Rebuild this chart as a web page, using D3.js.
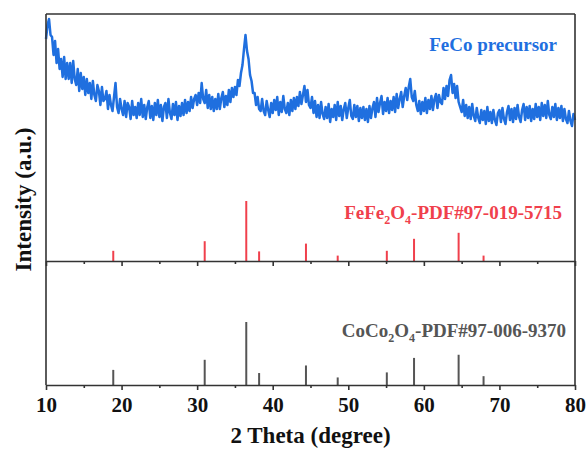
<!DOCTYPE html>
<html>
<head>
<meta charset="utf-8">
<script src="https://cdn.jsdelivr.net/npm/d3@7"></script>
<style>
  html, body { margin: 0; padding: 0; background: #fff; }
  svg { display: block; }
  text { font-family: "Liberation Serif", "Times New Roman", serif; font-weight: bold; }
</style>
</head>
<body>
<svg id="chart" width="587" height="454"></svg>
<script>
// ---- Data ----
const thetaStart = 10, thetaStep = 0.2;
// FeCo precursor measured pattern (a.u.), one value every 0.2 deg from 10 to 80
const precursorIntensity = [
  96,110,116,100,98, 80,94,72,86,66, 76,58,78,56,72, 56,72,52,74,56,
  50,66,44,62,46, 58,40,56,42,52, 36,54,40,34,50, 44,30,48,34,36,
  44,26,40,30,24, 38,52,28,22,36, 26,20,34,18,32, 28,16,34,20,28,
  17,32,20,36,18, 30,16,28,34,17, 29,15,32,20,35, 18,30,14,28,32,
  17,36,22,16,31, 20,33,15,29,19, 32,20,35,22,33, 24,38,27,36,40,
  30,42,32,52,36, 32,45,27,40,26, 38,24,36,26,41, 26,37,43,28,39,
  30,45,33,47,38, 48,40,55,49,62, 70,86,100,84,76, 60,54,42,42,30,
  38,26,24,36,24, 20,34,25,18,32, 22,35,25,38,20, 33,23,39,26,22,
  32,20,35,24,37, 26,38,29,43,31, 40,49,33,45,30, 27,38,22,34,18,
  30,17,33,21,16, 28,17,31,13,26, 18,30,15,33,19, 29,15,26,32,17,
  27,35,19,16,30, 18,29,14,27,17, 28,15,26,13,29, 17,27,33,18,37,
  23,32,39,21,33, 24,37,22,34,25, 38,23,41,27,36, 43,28,39,47,35,
  48,56,38,34,44, 30,24,34,21,33, 24,37,22,35,26, 39,25,36,41,27,
  40,33,31,47,36, 49,39,55,60,42, 51,37,49,33,28, 23,35,19,30,17,
  28,16,31,19,14, 27,17,12,25,15, 24,11,28,14,23, 12,25,15,10,22,
  25,13,27,16,11, 23,29,15,26,13, 27,16,30,18,13, 25,31,15,28,17,
  29,14,26,16,31, 18,28,15,32,19, 30,17,34,20,16, 28,18,31,15,27,
  17,29,14,26,16, 12,24,14,9,21, 15
];
// Reference stick patterns
const refTheta = [18.9, 31.0, 36.5, 38.2, 44.4, 48.6, 55.1, 58.7, 64.6, 67.9];
const fe3o4Intensity = [17, 33, 100, 16, 29, 9, 17, 37, 47, 9];
const co3o4Intensity = [24, 40, 100, 19, 31, 12, 20, 43, 48, 14];
const majorTicks = [10, 20, 30, 40, 50, 60, 70, 80];
const minorTicks = [15, 25, 35, 45, 55, 65, 75];
const labels = {
  precursor: "FeCo precursor",
  fe: ["FeFe", "2", "O", "4", "-PDF#97-019-5715"],
  co: ["CoCo", "2", "O", "4", "-PDF#97-006-9370"],
  xTitle: "2 Theta (degree)",
  yTitle: "Intensity (a.u.)"
};

// ---- Layout ----
const L = 46, R = 575, T = 14, MID = 261, B = 385;
const blue = "#1f6fdf", red = "#f0404c", gray = "#555555", frame = "#333333";

const svg = d3.select("#chart");
const x = d3.scaleLinear().domain([10, 80]).range([L, R]);
const yBlue = d3.scaleLinear().domain([0, 120]).range([135, 15]);
const yFe = d3.scaleLinear().domain([0, 100]).range([MID, MID - 60]);
const yCo = d3.scaleLinear().domain([0, 100]).range([B, B - 63]);

// precursor line
const pts = precursorIntensity.map((v, i) => [thetaStart + i * thetaStep, v]);
svg.append("path")
  .datum(pts)
  .attr("fill", "none")
  .attr("stroke", blue)
  .attr("stroke-width", 2.5)
  .attr("stroke-linejoin", "round")
  .attr("d", d3.line().x(d => x(d[0])).y(d => yBlue(d[1])));

// sticks
svg.append("g").selectAll("line").data(refTheta.map((t, i) => [t, fe3o4Intensity[i]]))
  .join("line")
  .attr("x1", d => x(d[0])).attr("x2", d => x(d[0]))
  .attr("y1", yFe(0)).attr("y2", d => yFe(d[1]))
  .attr("stroke", red).attr("stroke-width", 2);
svg.append("g").selectAll("line").data(refTheta.map((t, i) => [t, co3o4Intensity[i]]))
  .join("line")
  .attr("x1", d => x(d[0])).attr("x2", d => x(d[0]))
  .attr("y1", yCo(0)).attr("y2", d => yCo(d[1]))
  .attr("stroke", gray).attr("stroke-width", 2);

// frame
const fr = svg.append("g").attr("stroke", frame).attr("stroke-width", 1.6).attr("fill", "none");
fr.append("line").attr("x1", L).attr("x2", R).attr("y1", T).attr("y2", T);
fr.append("line").attr("x1", L).attr("x2", L).attr("y1", T).attr("y2", B);
fr.append("line").attr("x1", R).attr("x2", R).attr("y1", T).attr("y2", B);

function drawAxis(yPos, withLabels) {
  const gMaj = svg.append("g").attr("transform", `translate(0,${yPos})`)
    .call(d3.axisBottom(x).tickValues(majorTicks).tickSize(5).tickSizeOuter(0)
      .tickFormat(withLabels ? d3.format("d") : () => ""));
  gMaj.select(".domain").attr("stroke", frame).attr("stroke-width", 1.6);
  gMaj.selectAll(".tick line").attr("stroke", frame).attr("stroke-width", 1.6);
  gMaj.selectAll(".tick text")
    .attr("fill", "#111").attr("font-size", 21).attr("y", 12).attr("dy", "0.71em")
    .style("font-family", "'Liberation Serif', serif").style("font-weight", "bold");
  const gMin = svg.append("g").attr("transform", `translate(0,${yPos})`)
    .call(d3.axisBottom(x).tickValues(minorTicks).tickSize(3).tickSizeOuter(0).tickFormat(() => ""));
  gMin.select(".domain").remove();
  gMin.selectAll(".tick line").attr("stroke", frame).attr("stroke-width", 1.6);
}
drawAxis(MID, false);
drawAxis(B, true);

// labels
svg.append("text").attr("x", 557).attr("y", 51).attr("text-anchor", "end")
  .attr("font-size", 19).attr("fill", blue).text(labels.precursor);

function chem(parts, xEnd, yBase, color) {
  const t = svg.append("text").attr("x", xEnd).attr("y", yBase).attr("text-anchor", "end")
    .attr("font-size", 19).attr("fill", color);
  t.append("tspan").text(parts[0]);
  t.append("tspan").attr("font-size", 12).attr("dy", 5).text(parts[1]);
  t.append("tspan").attr("dy", -5).text(parts[2]);
  t.append("tspan").attr("font-size", 12).attr("dy", 5).text(parts[3]);
  t.append("tspan").attr("dy", -5).text(parts[4]);
}
chem(labels.fe, 562, 219, red);
chem(labels.co, 566, 337, gray);

svg.append("text").attr("x", (L + R) / 2).attr("y", 443).attr("text-anchor", "middle")
  .attr("font-size", 23).attr("fill", "#111").text(labels.xTitle);
svg.append("text").attr("transform", `translate(31,${(T + B) / 2}) rotate(-90)`)
  .attr("text-anchor", "middle").attr("font-size", 23).attr("fill", "#111").text(labels.yTitle);
</script>
</body>
</html>
